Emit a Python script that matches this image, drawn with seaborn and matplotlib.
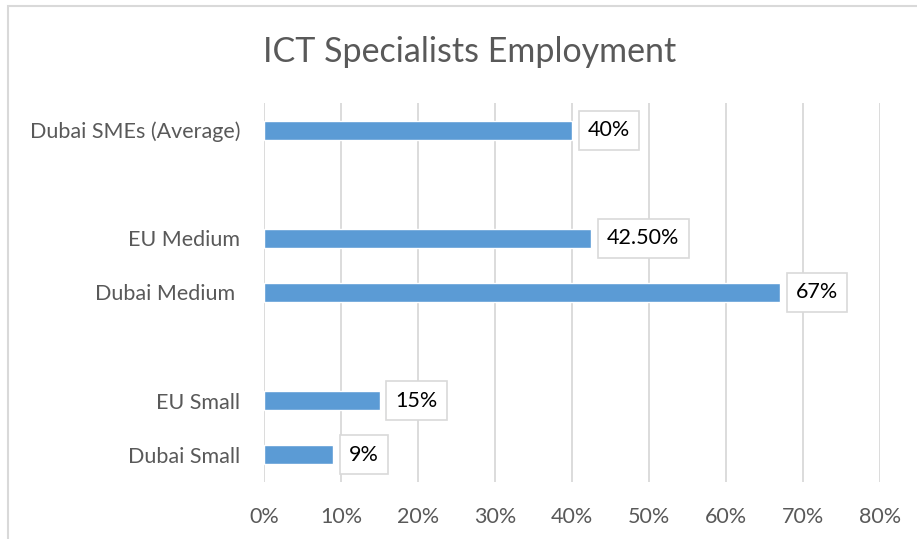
import matplotlib
matplotlib.use("Agg")
import matplotlib.pyplot as plt
import seaborn as sns
import pandas as pd
import numpy as np
from matplotlib.patches import Rectangle

categories = ["Dubai SMEs (Average)", "", "EU Medium", "Dubai Medium ", " ", "EU Small", "Dubai Small"]
values = [40, np.nan, 42.5, 67, np.nan, 15, 9]
value_labels = ["40%", "", "42.50%", "67%", "", "15%", "9%"]
x_ticks = [0, 10, 20, 30, 40, 50, 60, 70, 80]
x_tick_labels = ["0%", "10%", "20%", "30%", "40%", "50%", "60%", "70%", "80%"]
title = "ICT Specialists Employment"

sns.set_theme(style="white")
plt.rcParams["font.family"] = ["Lato", "DejaVu Sans"]

df = pd.DataFrame({"cat": categories, "val": values})

fig = plt.figure(figsize=(9.17, 5.39), dpi=100)
ax = fig.add_axes([264/917, 1-482/539, (880-264)/917, (482-103)/539])

sns.barplot(data=df, y="cat", x="val", order=categories, color="#5B9BD5",
            saturation=1, width=0.35, ax=ax, zorder=3)

ax.set_xlim(0, 80)
ax.set_xticks(x_ticks)
ax.set_xticklabels(x_tick_labels)
ax.set_xlabel("")
ax.set_ylabel("")
ax.grid(axis="x", color="#D9D9D9", linewidth=1.3, zorder=0)
ax.grid(axis="y", visible=False)
for s in ax.spines.values():
    s.set_visible(False)
ax.tick_params(axis="both", length=0, labelsize=15.5, colors="#595959")
ax.tick_params(axis="y", pad=17)
ax.tick_params(axis="x", pad=18)
for lbl in ax.get_xticklabels() + ax.get_yticklabels():
    lbl.set_color("#595959")

texts = []
for i, (v, t) in enumerate(zip(values, value_labels)):
    if np.isnan(v) or not t:
        continue
    txt = ax.annotate(t, xy=(v, i), xytext=(11.5, 0), textcoords="offset points",
                      ha="left", va="center", fontsize=15.5, color="#000000", zorder=6)
    texts.append(txt)

fig.text(470/917, 1-52/539, title, ha="center", va="center", fontsize=24.5, color="#595959")

# label boxes sized around the rendered text (Excel-style data label frames)
fig.canvas.draw()
renderer = fig.canvas.get_renderer()
to_axes = ax.transAxes.inverted()
padx, boxh = 9.0, 39.0
for txt in texts:
    bb = txt.get_window_extent(renderer)
    cy = (bb.y0 + bb.y1) / 2
    (ax0, ay0) = to_axes.transform((bb.x0 - padx, cy - boxh / 2))
    (ax1, ay1) = to_axes.transform((bb.x1 + padx, cy + boxh / 2))
    ax.add_patch(Rectangle((ax0, ay0), ax1 - ax0, ay1 - ay0, transform=ax.transAxes,
                           fc="white", ec="#D9D9D9", lw=1.2, zorder=5, clip_on=False))

fig.patches.append(Rectangle((8/917, -0.05), 1.1, 1-6/539+0.05, transform=fig.transFigure,
                             fill=False, ec="#D9D9D9", lw=1.5, zorder=-1))

fig.savefig("out.png", dpi=100)
